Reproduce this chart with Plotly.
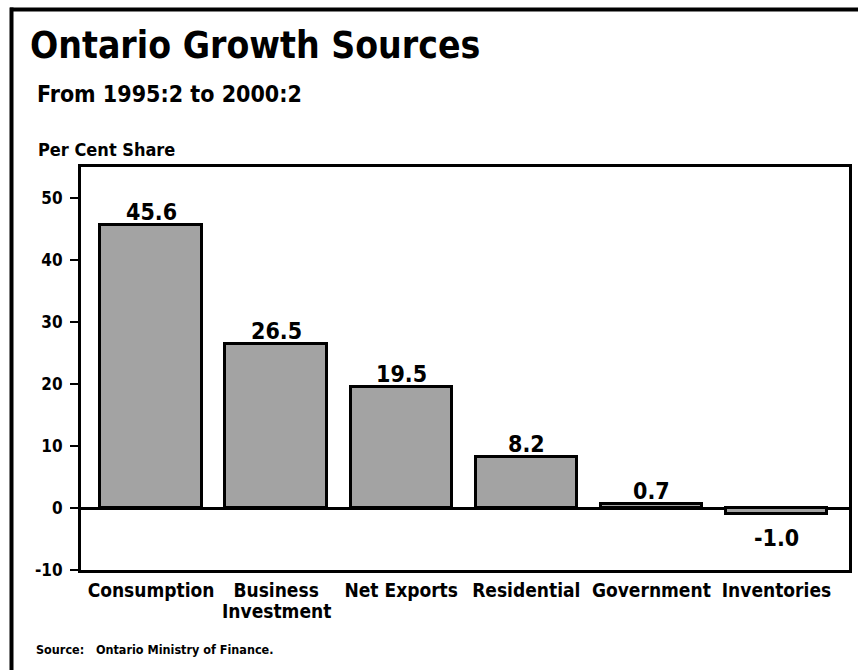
import plotly.graph_objects as go

# Contribution to growth by expenditure component, 1995:2 to 2000:2
categories = ["Consumption", "Business", "Net Exports", "Residential", "Government", "Inventories"]
second_line = ["", "Investment", "", "", "", ""]
shares = [45.6, 26.5, 19.5, 8.2, 0.7, -1.0]
y_ticks = [-10, 0, 10, 20, 30, 40, 50]

FONT = "DejaVu Sans Condensed, DejaVu Sans, sans-serif"
W, H = 858, 670
L, R, T, B = 81, 9, 167, 100
PW, PH = W - L - R, H - T - B


def px_x(px):
    return (px - L) / PW


def px_y(py):
    return (H - B - py) / PH


x_pos = list(range(len(categories)))

fig = go.Figure()
fig.add_trace(go.Bar(
    x=x_pos,
    y=shares,
    width=0.81,
    marker=dict(color="#a3a3a3", line=dict(color="black", width=3)),
    hoverinfo="skip",
))

annotations = []
# value labels above (or below) each bar
for i, v in enumerate(shares):
    annotations.append(dict(
        x=i, y=v, xref="x", yref="y",
        text=f"{v:.1f}", showarrow=False,
        font=dict(family=FONT, size=23, color="black", weight=700),
        yanchor="bottom" if v >= 0 else "top",
        yshift=-2 if v >= 0 else -9,
    ))

# second line of two-line category names
for i, t in enumerate(second_line):
    if t:
        annotations.append(dict(
            x=i, y=px_y(611), xref="x", yref="paper",
            text=t, showarrow=False,
            font=dict(family=FONT, size=19, color="black", weight=700),
            yanchor="middle",
        ))

annotations += [
    dict(x=px_x(28), y=px_y(46), xref="paper", yref="paper", xanchor="left", yanchor="middle",
         text="Ontario Growth Sources", showarrow=False,
         font=dict(family=FONT, size=37, color="black", weight=700)),
    dict(x=px_x(35), y=px_y(94), xref="paper", yref="paper", xanchor="left", yanchor="middle",
         text="From 1995:2 to 2000:2", showarrow=False,
         font=dict(family=FONT, size=23, color="black", weight=700)),
    dict(x=px_x(36), y=px_y(150), xref="paper", yref="paper", xanchor="left", yanchor="middle",
         text="Per Cent Share", showarrow=False,
         font=dict(family=FONT, size=18, color="black", weight=700)),
    dict(x=px_x(34), y=px_y(649), xref="paper", yref="paper", xanchor="left", yanchor="middle",
         text="Source:\u00a0\u00a0\u00a0Ontario Ministry of Finance.", showarrow=False,
         font=dict(family=FONT, size=12.5, color="black", weight=700)),
]

# page frame: rule across the top and down the left side
shapes = [
    dict(type="line", xref="paper", yref="paper",
         x0=px_x(10), x1=px_x(860), y0=px_y(9.5), y1=px_y(9.5),
         line=dict(color="black", width=4)),
    dict(type="line", xref="paper", yref="paper",
         x0=px_x(11.5), x1=px_x(11.5), y0=px_y(7.5), y1=px_y(675),
         line=dict(color="black", width=4)),
]

fig.update_layout(
    width=W, height=H,
    margin=dict(l=L, r=R, t=T, b=B, pad=0),
    paper_bgcolor="white", plot_bgcolor="white",
    showlegend=False,
    bargap=0,
    annotations=annotations,
    shapes=shapes,
    font=dict(family=FONT, color="black"),
)

fig.update_xaxes(
    range=[-0.56, 5.58],
    tickvals=x_pos, ticktext=categories, tickangle=0, automargin=False,
    ticks="", showgrid=False, zeroline=False,
    showline=True, linecolor="black", linewidth=3, mirror=True,
    tickfont=dict(family=FONT, size=19, color="black", weight=700),
    ticklabelstandoff=1,
)
fig.update_yaxes(
    range=[-10, 55], automargin=False,
    tickvals=y_ticks, ticktext=[str(t) for t in y_ticks],
    ticks="outside", ticklen=8, tickwidth=2, tickcolor="black",
    showgrid=False,
    zeroline=True, zerolinecolor="black", zerolinewidth=3,
    showline=True, linecolor="black", linewidth=3, mirror=True,
    tickfont=dict(family=FONT, size=17, color="black", weight=700),
    ticklabelstandoff=4,
)

fig.write_html("out.html")
